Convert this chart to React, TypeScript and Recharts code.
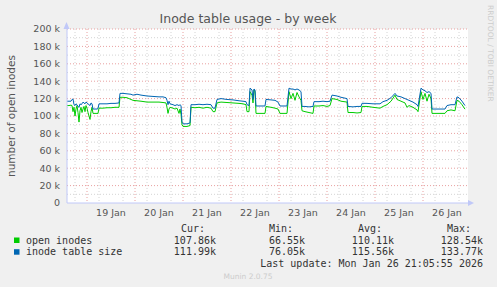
import { CartesianGrid, Line, LineChart, ReferenceLine, XAxis, YAxis } from 'recharts';

// hours since 19 Jan 00:00
const hours = [
  -10, -9, -8, -7.5, -7, -6.5, -6, -5.5, -5, -4.5, -4, -3.5, -3, -2.5, -2, -1.5, -1, -0.5, 0, 0.5, 1, 1.5, 2, 2.5,
  3, 4, 5, 5.5, 6, 8, 10, 12, 14, 16, 16.5, 18, 20, 22, 23, 25, 27, 30, 33, 36, 38, 39.5, 40, 40.5, 41, 41.5, 43,
  44, 45, 46, 46.5, 47, 47.5, 48, 50, 51.5, 52, 54, 56, 58, 60, 62, 63, 64, 65, 67, 70, 73, 76, 78, 79.5, 80, 81,
  81.5, 82.5, 83, 83.5, 84, 84.5, 86, 88, 89, 89.5, 92, 94, 95.5, 96.5, 98, 100, 101, 102, 103, 104, 105, 106, 107,
  107.5, 109, 111, 113, 113.5, 116, 118, 120, 121.5, 122.5, 125, 127, 130, 130.5, 133, 135, 137, 137.5, 140, 143,
  146.5, 148, 150, 152, 154, 155, 157, 159, 160, 161, 163, 165, 165.5, 167, 168, 169, 170, 171, 172, 172.5, 175,
  179, 180, 182, 184, 185, 186, 187.5, 189,
];

// thousands
const openInodes = [
  112, 112, 112.5, 112, 105, 110, 100, 108, 112, 104, 93, 106, 110, 104, 108, 111, 105, 112, 109, 104, 100, 96, 105, 110,
  103, 103, 103, 103, 109, 109, 109.5, 109.5, 110, 110, 121.5, 121.5, 121, 119, 118, 117.5, 117, 116, 116, 116, 115.5, 115, 110, 103, 108, 110, 109,
  108, 109, 103, 108, 102, 90, 88, 88, 89, 110, 109.5, 110, 109, 110, 109, 105, 105, 115, 116, 115.5, 115, 114.5, 114, 113, 105, 105,
  128, 124, 115, 130, 128, 103, 103, 103, 103, 111, 110, 109, 108, 103, 103, 103, 128, 120, 126, 118, 127, 122, 118,
  106, 105, 104, 103, 111.5, 111.5, 112, 111, 112, 120, 119, 117, 116, 104, 104, 103.5, 104, 111, 111, 110,
  109, 111, 113, 117, 124, 119, 117, 115, 110, 112, 110, 107, 105, 128, 119, 126, 117, 125, 120, 103, 103,
  103, 106, 107, 106, 118, 117, 113, 107.86,
];

const tableSize = [
  117, 117, 117, 119, 119.5, 113, 112, 114, 113, 111, 110, 114, 113, 114, 116, 115, 114, 116, 115, 114, 113, 112, 115, 114,
  108, 108, 108, 108.5, 114, 114, 114, 114.5, 114.5, 115, 126, 126, 125.5, 125, 124, 125, 124, 123, 122.5, 122, 122, 121, 118, 113, 117, 114, 113,
  112, 113, 112, 113, 112, 93, 91, 91, 92, 113, 113, 113.5, 113, 113.5, 113, 109, 109, 119, 120, 119, 118.5, 117.5, 117, 116.5, 113, 112,
  132, 130, 119, 131, 130, 111.5, 111.5, 111.5, 111.5, 119, 118.5, 118, 116, 111.5, 111.5, 111.5, 132, 131, 131, 130, 131, 130, 128,
  111, 111, 110.5, 111, 116.5, 116.5, 117, 116.5, 117, 124, 123, 121.5, 120, 111, 110.5, 111, 111, 114.6, 114.5, 114,
  114, 116.5, 118, 121, 126, 123, 122, 120, 119, 118, 116, 113, 111, 132, 130, 129, 127, 128, 126, 108, 108,
  108, 112, 113, 113, 122, 121, 117, 111.99,
];

const yTicks = [0, 20000, 40000, 60000, 80000, 100000, 120000, 140000, 160000, 180000, 200000];
const xTicks = [12, 36, 60, 84, 108, 132, 156, 180];
const xTickLabels = ['19 Jan', '20 Jan', '21 Jan', '22 Jan', '23 Jan', '24 Jan', '25 Jan', '26 Jan'];
const minorY = [10000, 30000, 50000, 70000, 90000, 110000, 130000, 150000, 170000, 190000];
const majorY = [20000, 40000, 60000, 80000, 100000, 120000, 140000, 160000, 180000, 200000];
const minorX = [-6, 6, 12, 18, 30, 36, 42, 54, 60, 66, 78, 84, 90, 102, 108, 114, 126, 132, 138, 150, 156, 162, 174, 180, 186];
const majorX = [0, 24, 48, 72, 96, 120, 144, 168];

const legendRows = [
  { name: 'open inodes', color: '#00cc00', cur: '107.86k', min: '66.55k', avg: '110.11k', max: '128.54k' },
  { name: 'inode table size', color: '#0066b3', cur: '111.99k', min: '76.05k', avg: '115.56k', max: '133.77k' },
];

const data = hours.map((h, i) => ({ h, open: openInodes[i] * 1000, size: tableSize[i] * 1000 }));

const mono = '"DejaVu Sans Mono", monospace';
const sans = '"DejaVu Sans", sans-serif';
const tickStyle = { fill: '#555', fontSize: 9.5, fontFamily: sans };

export default function App() {
  return (
    <div style={{ position: 'absolute', left: 0, top: 0, width: 497, height: 287, background: '#f0f0f0' }}>
      <LineChart
        width={497}
        height={287}
        data={data}
        margin={{ top: 29, right: 29, left: 0, bottom: 0 }}
      >
        <CartesianGrid
          stroke="#d4d4d4"
          strokeDasharray="1 2"
          horizontal={false}
          verticalValues={minorX}
          fill="#fff"
          fillOpacity={1}
        />
        <CartesianGrid
          stroke="#e8a0a0"
          strokeDasharray="1 2"
          horizontal={false}
          verticalValues={majorX}
        />
        {minorY.map((v) => (
          <ReferenceLine key={`mi${v}`} y={v} stroke="#d4d4d4" strokeDasharray="1 2" />
        ))}
        {majorY.map((v) => (
          <ReferenceLine key={`ma${v}`} y={v} stroke="#e8a0a0" strokeDasharray="1 2" />
        ))}
        <XAxis
          dataKey="h"
          type="number"
          domain={[-10, 190.5]}
          ticks={xTicks}
          tickFormatter={(v) => xTickLabels[xTicks.indexOf(v)] ?? ''}
          tick={tickStyle}
          tickLine={false}
          axisLine={{ stroke: '#c0c8f8' }}
          tickSize={0}
          tickMargin={6}
          height={84}
          allowDataOverflow
        />
        <YAxis
          type="number"
          domain={[0, 200000]}
          ticks={yTicks}
          tickFormatter={(v) => (v === 0 ? '0' : `${v / 1000} k`)}
          tick={tickStyle}
          tickLine={false}
          axisLine={{ stroke: '#c0c8f8' }}
          tickSize={0}
          tickMargin={7}
          width={67}
        />
        <Line dataKey="open" stroke="#00cc00" strokeWidth={1} dot={false} isAnimationActive={false} type="linear" />
        <Line dataKey="size" stroke="#0066b3" strokeWidth={1} dot={false} isAnimationActive={false} type="linear" />
      </LineChart>
      <svg
        width={497}
        height={287}
        style={{ position: 'absolute', left: 0, top: 0, pointerEvents: 'none' }}
      >
        <polygon points="63.5,29 66.5,22 69.5,29" fill="#c0c8f8" />
        <polygon points="468,200 474,203 468,206" fill="#c0c8f8" />
        <text x={248} y={23} textAnchor="middle" fontSize={12.5} fontFamily={sans} fill="#555">
          Inode table usage - by week
        </text>
        <text
          x={15}
          y={116}
          transform="rotate(-90 15 116)"
          textAnchor="middle"
          fontSize={10.5}
          fontFamily={sans}
          fill="#555"
        >
          number of open inodes
        </text>
        <text
          x={488}
          y={5}
          transform="rotate(90 488 5)"
          fontSize={7.5}
          fontFamily={sans}
          fill="#ccc"
        >
          RRDTOOL / TOBI OETIKER
        </text>
        <g fontFamily={mono} fontSize={10} fill="#333">
          <text x={181} y={231.5}>Cur:</text>
          <text x={269} y={231.5}>Min:</text>
          <text x={358} y={231.5}>Avg:</text>
          <text x={447} y={231.5}>Max:</text>
          {legendRows.map((r, i) => (
            <g key={r.name}>
              <rect x={14} y={237.5 + i * 11.7} width={5.5} height={5.5} fill={r.color} />
              <text x={26} y={243.5 + i * 11.7}>{r.name}</text>
              <text x={216} y={243.5 + i * 11.7} textAnchor="end">{r.cur}</text>
              <text x={305} y={243.5 + i * 11.7} textAnchor="end">{r.min}</text>
              <text x={394} y={243.5 + i * 11.7} textAnchor="end">{r.avg}</text>
              <text x={483} y={243.5 + i * 11.7} textAnchor="end">{r.max}</text>
            </g>
          ))}
          <text x={483} y={267} textAnchor="end">Last update: Mon Jan 26 21:05:55 2026</text>
        </g>
        <text x={248} y={279} textAnchor="middle" fontSize={7.5} fontFamily={sans} fill="#ccc">
          Munin 2.0.75
        </text>
      </svg>
    </div>
  );
}
